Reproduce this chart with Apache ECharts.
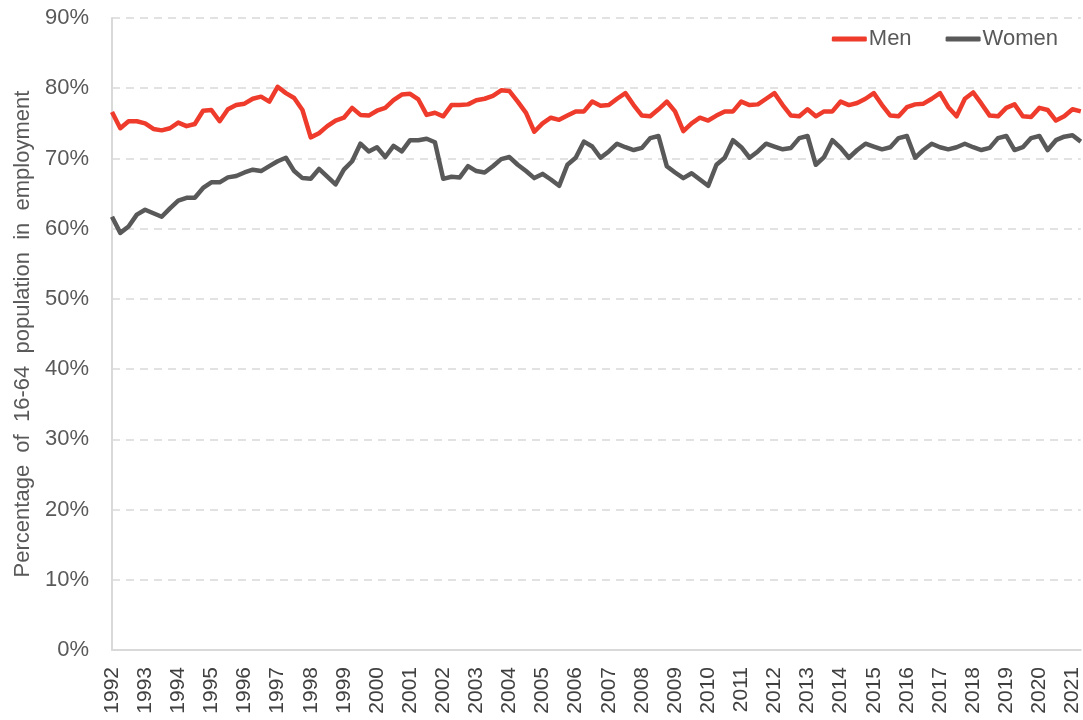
<!DOCTYPE html>
<html>
<head>
<meta charset="UTF-8">
<title>employment_rate</title>
<script src="https://cdn.jsdelivr.net/npm/echarts@6/dist/echarts.min.js"></script>
<style>
  html, body { margin: 0; padding: 0; background: #fff; }
  #main { width: 1083px; height: 720px; }
</style>
</head>
<body>
<div id="main"></div>
<script>
// quarterly, 1992 Q1 .. 2021 Q2
var years = [];
for (var y = 1992; y <= 2021; y++) {
  for (var q = 1; q <= 4; q++) {
    if (y === 2021 && q > 2) break;
    years.push(q === 1 ? String(y) : y + ' Q' + q);
  }
}

var men = [
  76.6, 74.3, 75.3, 75.3, 75.0, 74.2, 74.0, 74.3, 75.1, 74.6,
  74.9, 76.8, 76.9, 75.3, 77.0, 77.6, 77.8, 78.5, 78.8, 78.1,
  80.2, 79.3, 78.6, 76.9, 73.0, 73.6, 74.6, 75.4, 75.8, 77.2,
  76.2, 76.1, 76.8, 77.2, 78.3, 79.1, 79.2, 78.4, 76.2, 76.5,
  76.0, 77.6, 77.6, 77.7, 78.3, 78.5, 78.9, 79.7, 79.6, 78.1,
  76.5, 73.8, 75.0, 75.8, 75.5, 76.1, 76.7, 76.7, 78.1, 77.5,
  77.6, 78.5, 79.3, 77.6, 76.1, 76.0, 77.0, 78.1, 76.7, 73.9,
  75.0, 75.8, 75.4, 76.1, 76.7, 76.7, 78.1, 77.6, 77.7, 78.5,
  79.3, 77.6, 76.1, 76.0, 77.0, 76.0, 76.7, 76.7, 78.1, 77.6,
  77.9, 78.5, 79.3, 77.6, 76.1, 76.0, 77.3, 77.7, 77.8, 78.5,
  79.3, 77.3, 76.0, 78.5, 79.4, 77.8, 76.1, 76.0, 77.2, 77.7,
  76.0, 75.9, 77.2, 76.9, 75.4, 76.0, 77.0, 76.7
];

var women = [
  61.7, 59.4, 60.3, 62.0, 62.7, 62.2, 61.7, 62.9, 64.0, 64.4,
  64.4, 65.8, 66.6, 66.6, 67.3, 67.5, 68.0, 68.4, 68.2, 68.9,
  69.6, 70.1, 68.2, 67.2, 67.1, 68.5, 67.4, 66.3, 68.4, 69.6,
  72.1, 71.0, 71.6, 70.2, 71.8, 71.0, 72.6, 72.6, 72.8, 72.3,
  67.1, 67.4, 67.3, 68.9, 68.2, 68.0, 68.9, 69.9, 70.2, 69.1,
  68.2, 67.2, 67.8, 67.0, 66.1, 69.1, 70.1, 72.4, 71.7, 70.1,
  71.0, 72.1, 71.6, 71.2, 71.5, 72.9, 73.2, 68.9, 68.0, 67.2,
  67.9, 67.0, 66.1, 69.1, 70.1, 72.6, 71.6, 70.1, 71.0, 72.1,
  71.7, 71.3, 71.5, 72.9, 73.2, 69.1, 70.2, 72.6, 71.5, 70.1,
  71.2, 72.1, 71.7, 71.3, 71.6, 72.9, 73.2, 70.1, 71.2, 72.1,
  71.6, 71.3, 71.6, 72.1, 71.6, 71.2, 71.5, 72.9, 73.2, 71.2,
  71.6, 72.9, 73.2, 71.2, 72.6, 73.1, 73.3, 72.4
];

var txt = '#595959';
var myChart = echarts.init(document.getElementById('main'));

option = {
    animation: false,
    textStyle: { fontFamily: 'Liberation Sans, Arial, sans-serif' },
    grid: { left: 112, right: 0, top: 18, bottom: 70, containLabel: false },
    legend: {
        top: 23,
        right: 20,
        itemGap: 34,
        itemWidth: 35,
        itemHeight: 5,
        icon: 'roundRect',
        textStyle: { fontSize: 22, color: txt, padding: [0, 0, 0, -3] },
        data: ['Men', 'Women']
    },
    xAxis: {
        type: 'category',
        boundaryGap: false,
        data: years,
        axisLine: { lineStyle: { color: '#d9d9d9', width: 2 } },
        axisTick: { show: false },
        axisLabel: {
            rotate: 90,
            interval: 3,
            fontSize: 21,
            color: '#404040',
            margin: 17,
            formatter: function (v) { return v.slice(0, 4); }
        }
    },
    yAxis: {
        type: 'value',
        min: 0,
        max: 90,
        interval: 10,
        name: 'Percentage  of  16-64  population  in  employment',
        nameLocation: 'middle',
        nameGap: 76,
        nameTextStyle: { fontSize: 22, color: txt },
        axisLine: { show: true, lineStyle: { color: '#d9d9d9', width: 2 } },
        axisTick: { show: false },
        axisLabel: { formatter: '{value}%', fontSize: 22, color: txt, margin: 23 },
        splitLine: { lineStyle: { color: '#d9d9d9', type: [8, 6], width: 1.5 } }
    },
    series: [
        {
            name: 'Men',
            type: 'line',
            data: men,
            showSymbol: false,
            itemStyle: { color: '#ee3b2b' },
            lineStyle: { color: '#ee3b2b', width: 4.5, join: 'round' }
        },
        {
            name: 'Women',
            type: 'line',
            data: women,
            showSymbol: false,
            itemStyle: { color: '#595959' },
            lineStyle: { color: '#595959', width: 4.5, join: 'round' }
        }
    ]
};
myChart.setOption(option);
</script>
</body>
</html>
